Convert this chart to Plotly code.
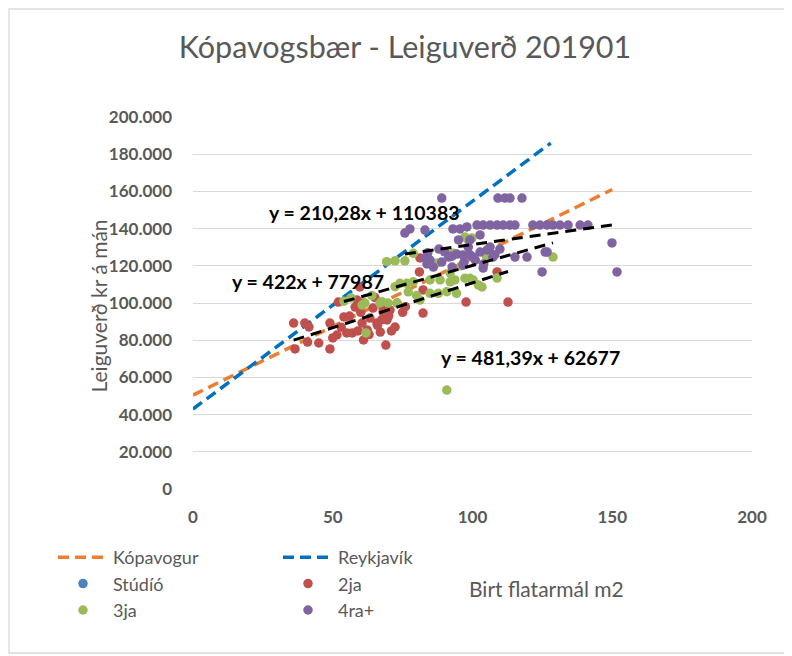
import plotly.graph_objects as go

# ---------------- data ----------------
chart_title = "Kópavogsbær - Leiguverð 201901"
x_title = "Birt flatarmál m2"
y_title = "Leiguverð kr á mán"

x_ticks = [0, 50, 100, 150, 200]
y_ticks = [0, 20000, 40000, 60000, 80000, 100000, 120000, 140000, 160000, 180000, 200000]

kop_name = "Kópavogur"
kop_x = [0, 150]
kop_y = [50500, 161000]

rvk_name = "Reykjavík"
rvk_x = [0, 128]
rvk_y = [43000, 186000]

studio_x = [None]
studio_y = [None]

two_x = [36, 40, 41.5, 36.5, 41, 45, 49, 49, 50, 52, 54, 51.5, 55, 57, 58.7, 60.5, 61, 62.3,
         63.3, 65.8, 67, 69.4, 69, 70.5, 72.3, 58, 64.4, 68, 81.2, 81, 82.3, 68, 82.3, 97.7,
         68.7, 108.8, 112.7, 59.7, 61, 65, 70, 75, 73, 66, 59, 53, 63, 56, 60, 67.5, 71, 76]
two_y = [89200, 89200, 87100, 75300, 79000, 78500, 75300, 89200, 81200, 100500, 92500, 82800,
         83900, 83900, 101600, 89200, 80100, 85500, 91900, 89200, 84400, 90900, 77400, 96200,
         87100, 97800, 97300, 97300, 124200, 116700, 107000, 95200, 94600, 100500, 98900,
         116700, 100500, 108600, 100000, 103000, 93000, 95000, 100000, 88000, 85000, 87000,
         83000, 93000, 95000, 91000, 85000, 98000]

three_x = [54, 56.5, 60.5, 61.9, 61.5, 64, 66.9, 67.5, 69.8, 73, 69.3, 72.3, 75.8, 78.8, 72.3,
           74, 76.5, 78.8, 84.8, 88.4, 92, 93.7, 97.3, 99.1, 102.1, 84.8, 87.8, 90.8, 94.3,
           81.2, 87.3, 93, 98.4, 97.3, 99.8, 100.2, 103.4, 108.8, 128.8, 90.8, 77, 80, 92,
           96, 105]
three_y = [101000, 102700, 98900, 83900, 100000, 104000, 100000, 100700, 100000, 100000,
           122200, 122700, 122700, 126700, 108800, 110600, 110600, 111400, 112400, 112400,
           111400, 112400, 113300, 113300, 109700, 105200, 105200, 106100, 105200, 101600,
           121500, 126800, 133900, 135500, 134900, 112400, 108600, 113400, 124700, 53200,
           106000, 104000, 116000, 120000, 125000]

four_x = [89, 75.8, 77.6, 83, 93, 95.5, 98, 101.6, 103.8, 106.3, 108.8, 111, 113.4, 115.2,
          109.1, 111.6, 113.4, 117.7, 121.6, 124.1, 126.7, 128.8, 131.3, 134.2, 138.5, 141.3,
          102.7, 95, 99.1, 91.5, 84.8, 83, 89, 92.7, 94.4, 96.6, 100.2, 102.7, 105.2, 106.3,
          107.3, 109.8, 115.2, 119.5, 126.7, 124.9, 92.7, 96.6, 103.8, 83.7, 86, 149.9, 151.7,
          126, 104, 99, 97, 88, 84, 90, 98.5, 101, 108]
four_y = [156400, 137600, 139800, 139200, 139800, 139800, 140900, 141900, 141900, 141900,
          141900, 141900, 141900, 141900, 156400, 156400, 156400, 156400, 141900, 141900,
          141900, 141900, 141900, 141900, 141900, 141900, 136600, 133900, 133900, 124700,
          123100, 124200, 122000, 125200, 126300, 125800, 124700, 127400, 128500, 130100,
          124700, 129000, 124700, 124700, 127400, 116700, 119300, 120400, 118800, 121000,
          119300, 132300, 116700, 127400, 121000, 126000, 122000, 129000, 127000, 127500,
          130000, 123000, 126000]

# linear trendlines (slope, intercept) as printed on the chart
trend_2ja = (481.39, 62677)
trend_3ja = (422, 77987)
trend_4ra = (210.28, 110383)
eq_2ja = "y = 481,39x + 62677"
eq_3ja = "y = 422x + 77987"
eq_4ra = "y = 210,28x + 110383"

# ---------------- figure ----------------
GRAY = "#595959"
FONT = "Lato"
OFF = 8                      # page body margin
W, H = 784, 648
L, R, T, B = 185, 40, 109, 167
PW, PH = W - L - R, H - T - B


def px_x(p):                 # page px -> paper x
    return (p - OFF - L) / PW


def px_y(p):                 # page px -> paper y
    return (H - B - (p - OFF)) / PH


fig = go.Figure()

fig.add_trace(go.Scatter(x=kop_x, y=kop_y, mode="lines", name=kop_name,
                         line=dict(color="#ED7D31", width=3.5, dash="11px,6px"),
                         legend="legend"))
fig.add_trace(go.Scatter(x=rvk_x, y=rvk_y, mode="lines", name=rvk_name,
                         line=dict(color="#0070C0", width=3.5, dash="11px,6px"),
                         legend="legend2"))

mk = 9.5
fig.add_trace(go.Scatter(x=studio_x, y=studio_y, mode="markers", name="Stúdíó",
                         marker=dict(color="#4F81BD", size=mk), legend="legend"))
fig.add_trace(go.Scatter(x=two_x, y=two_y, mode="markers", name="2ja",
                         marker=dict(color="#C0504D", size=mk), legend="legend2"))
fig.add_trace(go.Scatter(x=three_x, y=three_y, mode="markers", name="3ja",
                         marker=dict(color="#9BBB59", size=mk), legend="legend"))
fig.add_trace(go.Scatter(x=four_x, y=four_y, mode="markers", name="4ra+",
                         marker=dict(color="#8064A2", size=mk), legend="legend2"))

for xs, (a, b) in ((two_x, trend_2ja), (three_x, trend_3ja), (four_x, trend_4ra)):
    x0, x1 = min(xs), max(xs)
    fig.add_trace(go.Scatter(x=[x0, x1], y=[a * x0 + b, a * x1 + b], mode="lines",
                             showlegend=False,
                             line=dict(color="black", width=3, dash="11px,7px")))

ann_font = dict(family=FONT, size=19.5, color="black", weight="bold")
fig.add_annotation(x=61.5, y=148400, text=eq_4ra, showarrow=False, font=ann_font)
fig.add_annotation(x=41, y=111800, text=eq_3ja, showarrow=False, font=ann_font)
fig.add_annotation(x=120.6, y=70960, text=eq_2ja, showarrow=False, font=ann_font)

fig.add_annotation(xref="paper", yref="paper", x=px_x(83), y=px_y(306), text=y_title,
                   textangle=-90, showarrow=False, font=dict(family=FONT, size=21, color=GRAY))
fig.add_annotation(xref="paper", yref="paper", x=px_x(546), y=px_y(603), text=x_title,
                   showarrow=False, font=dict(family=FONT, size=21, color=GRAY))

# chart border
fig.add_shape(type="rect", xref="paper", yref="paper",
              x0=px_x(9), x1=px_x(789), y0=px_y(653), y1=px_y(9),
              line=dict(color="#D9D9D9", width=1.3), layer="below")

leg_common = dict(orientation="v", yanchor="top", xanchor="left", y=px_y(539),
                  font=dict(family=FONT, size=18, color=GRAY), bgcolor="rgba(0,0,0,0)",
                  itemwidth=50, tracegroupgap=0)
fig.update_layout(
    width=W, height=H,
    margin=dict(l=L, r=R, t=T, b=B, autoexpand=False),
    paper_bgcolor="white", plot_bgcolor="white",
    separators=",.",
    title=dict(text=chart_title, x=(405 - OFF) / W, xref="container", xanchor="center",
               y=1 - (47 - OFF) / H, yref="container", yanchor="middle",
               font=dict(family=FONT, size=30.5, color=GRAY)),
    legend=dict(x=px_x(53), **leg_common),
    legend2=dict(x=px_x(278), **leg_common),
    xaxis=dict(range=[0, 200], tickvals=x_ticks, showgrid=False, zeroline=False,
               showline=False, ticks="", ticklabelstandoff=16,
               tickfont=dict(family=FONT, size=17, color=GRAY, weight="bold")),
    yaxis=dict(range=[0, 200000], tickvals=y_ticks, tickformat=",d", showgrid=True,
               gridcolor="#D9D9D9", gridwidth=1.3, zeroline=False, showline=False,
               ticks="", ticklabelstandoff=20,
               tickfont=dict(family=FONT, size=17, color=GRAY, weight="bold")),
)

fig.write_html("out.html")
